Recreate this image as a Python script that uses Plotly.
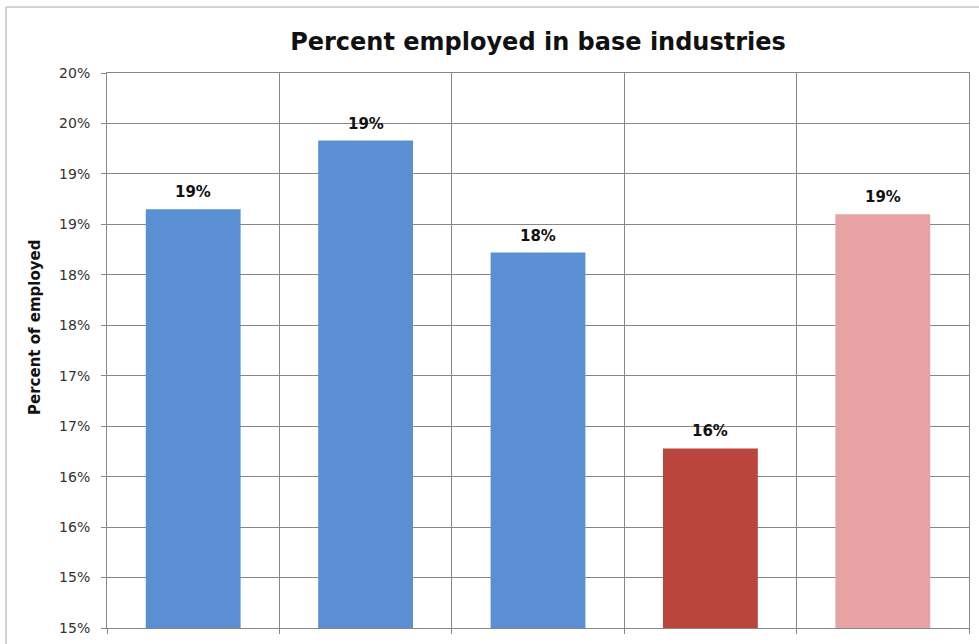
import plotly.graph_objects as go

categories = ["Area 1", "Area 2", "Area 3", "Area 4", "Area 5"]
values = [0.1865, 0.1933, 0.1822, 0.1628, 0.1860]
bar_colors = ["#5A8FD3", "#5A8FD3", "#5A8FD3", "#B9453D", "#E7A2A3"]
tick_values = [0.145, 0.150, 0.155, 0.160, 0.165, 0.170, 0.175, 0.180, 0.185, 0.190, 0.195, 0.200]
tick_labels = ["15%", "15%", "16%", "16%", "17%", "17%", "18%", "18%", "19%", "19%", "20%", "20%"]

FONT = "DejaVu Sans"

fig = go.Figure(go.Bar(
    x=categories, y=values,
    marker=dict(color=bar_colors, line=dict(width=0)),
    width=0.55,
))

for c, v in zip(categories, values):
    fig.add_annotation(x=c, y=v, xref="x", yref="y", yanchor="bottom",
                       yshift=6, showarrow=False,
                       text=f"<b>{round(v*100)}%</b>",
                       font=dict(family=FONT, size=15, color="#111111"))

W, H = 979, 644
ml, mr, mt, mb = 107, 10, 73, 16
pw, ph = W - ml - mr, H - mt - mb

# y-axis title (placed slightly above the axis centre as in the original)
fig.add_annotation(xref="paper", yref="paper", x=(35 - ml) / pw, y=1 - (328 - mt) / ph,
                   xanchor="center", yanchor="middle", textangle=-90, showarrow=False,
                   text="<b>Percent of employed</b>",
                   font=dict(family=FONT, size=15, color="#111111"))

fig.update_layout(
    width=W, height=H,
    margin=dict(l=ml, r=mr, t=mt, b=mb, autoexpand=False),
    paper_bgcolor="white", plot_bgcolor="white",
    showlegend=False,
    title=dict(text="<b>Percent employed in base industries</b>",
               x=0.5, xref="paper", y=1 - 42 / H, yanchor="middle",
               font=dict(family=FONT, size=24, color="#111111")),
    xaxis=dict(type="category", tickson="boundaries", showticklabels=False,
               showgrid=True, gridcolor="#868686", gridwidth=1,
               ticks="outside", ticklen=5, tickcolor="#868686",
               showline=True, linecolor="#868686", mirror=True, automargin=False),
    yaxis=dict(range=[0.145, 0.200], tickvals=tick_values, ticktext=tick_labels,
               showgrid=True, gridcolor="#868686", gridwidth=1,
               ticks="outside", ticklen=5, tickcolor="#868686",
               showline=True, linecolor="#868686", mirror=True, automargin=False,
               ticklabelstandoff=8,
               tickfont=dict(family=FONT, size=14, color="#333333")),
)

# outer chart border (partially cropped in the original)
fig.add_shape(type="rect", xref="paper", yref="paper",
              x0=(6 - ml) / pw, x1=(W + 20 - ml) / pw,
              y0=-(mb + 20) / ph, y1=1 + (mt - 7) / ph,
              line=dict(color="#A8A8A8", width=1), layer="below")

fig.write_html("out.html", config={"displayModeBar": False},
               post_script="document.body.style.margin='0';")
